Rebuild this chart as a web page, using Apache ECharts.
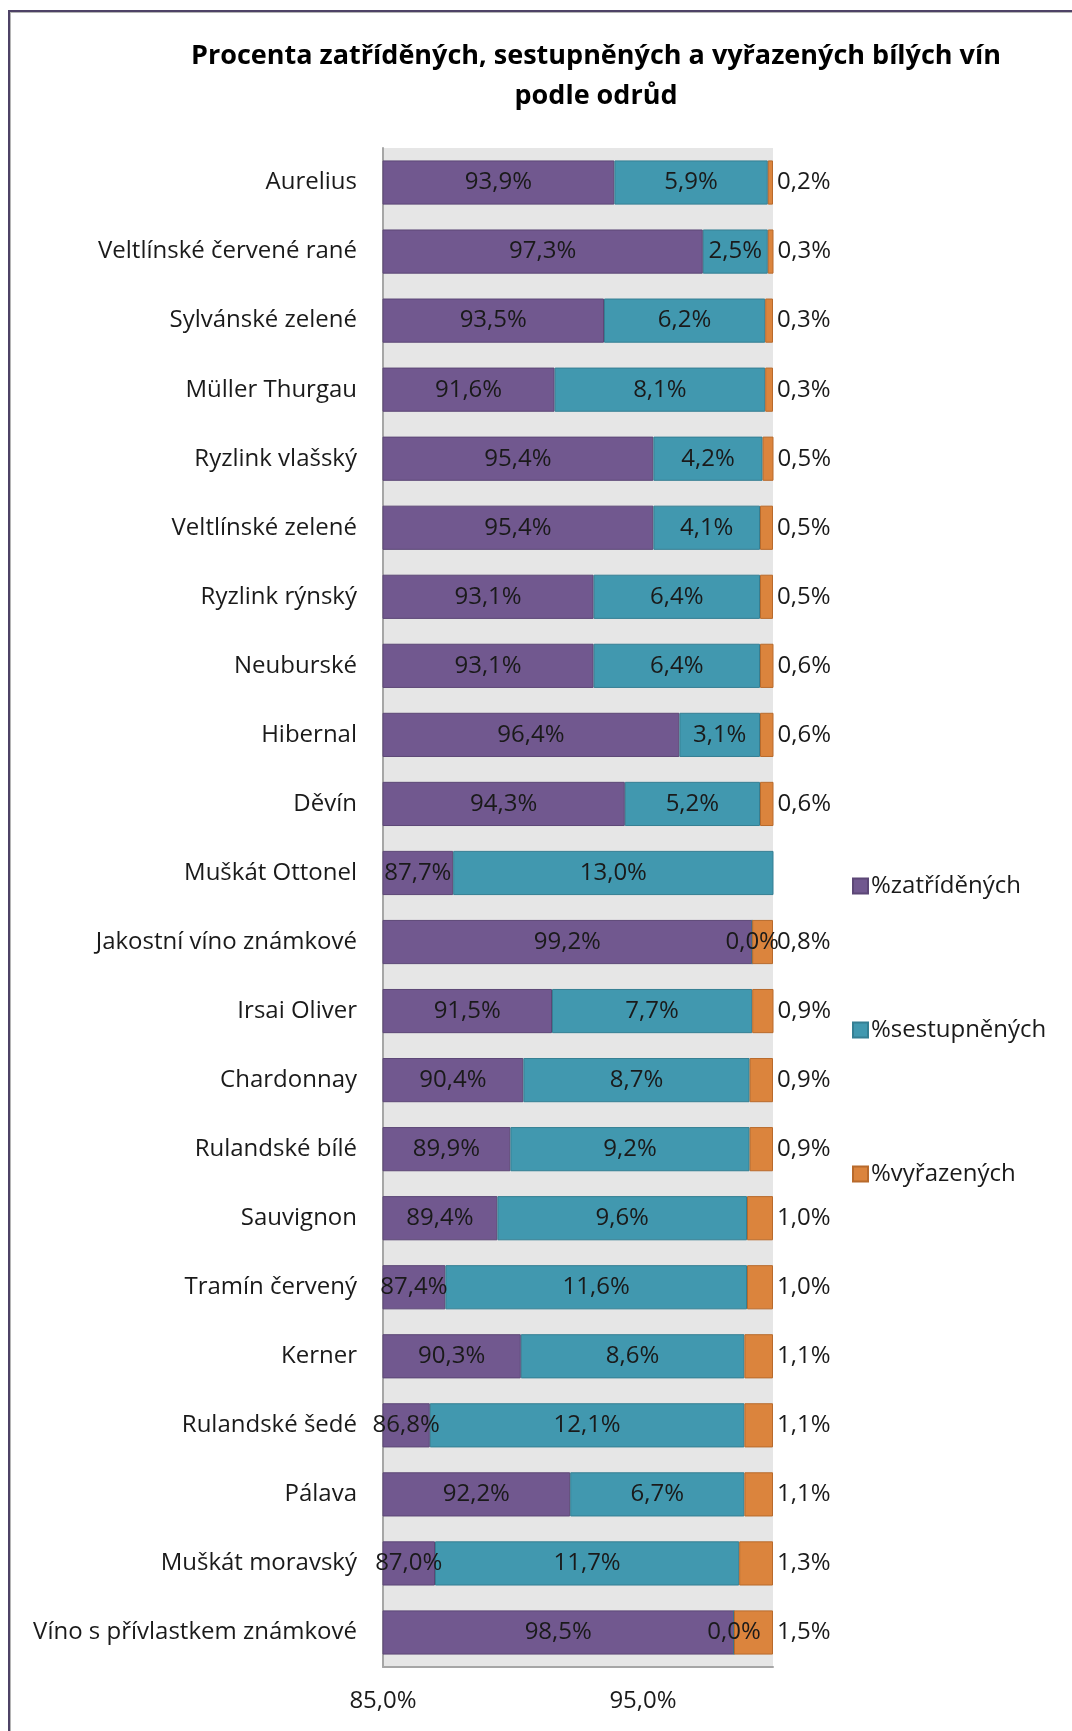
<!DOCTYPE html>
<html>
<head>
<meta charset="utf-8">
<script src="https://cdn.jsdelivr.net/npm/echarts@6/dist/echarts.min.js"></script>
<style>
  html, body { margin: 0; padding: 0; background: #fff; }
  #wrap { position: relative; width: 1072px; height: 1731px; overflow: hidden; }
  #chart { width: 1072px; height: 1731px; }
  #frame {
    position: absolute; left: 8px; top: 10px; width: 1200px; height: 1900px;
    border-top: 2px solid #4e4266; border-left: 2px solid #4e4266;
    box-shadow: inset 1px 1px 0 #b5b5b5; pointer-events: none;
  }
</style>
</head>
<body>
<div id="wrap">
  <div id="chart"></div>
  <div id="frame"></div>
</div>
<script>
const categories = [
  'Aurelius', 'Veltlínské červené rané', 'Sylvánské zelené', 'Müller Thurgau',
  'Ryzlink vlašský', 'Veltlínské zelené', 'Ryzlink rýnský', 'Neuburské',
  'Hibernal', 'Děvín', 'Muškát Ottonel', 'Jakostní víno známkové',
  'Irsai Oliver', 'Chardonnay', 'Rulandské bílé', 'Sauvignon',
  'Tramín červený', 'Kerner', 'Rulandské šedé', 'Pálava',
  'Muškát moravský', 'Víno s přívlastkem známkové'
]
const zatridenych = [93.9, 97.3, 93.5, 91.6, 95.4, 95.4, 93.1, 93.1, 96.4, 94.3, 87.7, 99.2,
  91.5, 90.4, 89.9, 89.4, 87.4, 90.3, 86.8, 92.2, 87.0, 98.5]
const sestupnenych = [5.9, 2.5, 6.2, 8.1, 4.2, 4.1, 6.4, 6.4, 3.1, 5.2, 13.0, 0.0,
  7.7, 8.7, 9.2, 9.6, 11.6, 8.6, 12.1, 6.7, 11.7, 0.0]
const vyrazenych = [0.2, 0.3, 0.3, 0.3, 0.5, 0.5, 0.5, 0.6, 0.6, 0.6, null, 0.8,
  0.9, 0.9, 0.9, 1.0, 1.0, 1.1, 1.1, 1.1, 1.3, 1.5]
const xTickLabels = ['85,0%', '95,0%']

const fontFamily = '"Open Sans", sans-serif'
const fmt = v => v.toFixed(1).replace('.', ',') + '%'

const chart = echarts.init(document.getElementById('chart'))

function labelStyle(pos) {
  return {
    show: true,
    position: pos,
    distance: 4,
    color: '#1a1a1a',
    fontSize: 24,
    fontFamily: fontFamily,
    formatter: p => p.value == null ? '' : fmt(p.value)
  }
}

chart.setOption({
  animation: false,
  title: {
    text: 'Procenta zatříděných, sestupněných a vyřazených bílých vín\npodle odrůd',
    left: 591,
    top: 31,
    textAlign: 'center',
    textStyle: {
      fontFamily: fontFamily,
      fontWeight: 'bold',
      fontSize: 27,
      lineHeight: 40,
      color: '#000'
    }
  },
  legend: {
    orient: 'vertical',
    left: 847,
    top: 869,
    itemWidth: 15,
    itemHeight: 15,
    itemGap: 120,
    icon: 'rect',
    textStyle: { fontFamily: fontFamily, fontSize: 24, color: '#1a1a1a', padding: [0, 0, 0, -2] },
    data: ['%zatříděných', '%sestupněných', '%vyřazených']
  },
  grid: {
    left: 383,
    right: 299,
    top: 148,
    bottom: 64,
    show: true,
    backgroundColor: '#e6e6e6',
    borderWidth: 0
  },
  xAxis: {
    type: 'value',
    min: 85,
    max: 100,
    interval: 5,
    axisLine: { show: true, lineStyle: { color: '#a6a6a6', width: 2 } },
    axisTick: { show: false },
    splitLine: { show: false },
    axisLabel: {
      margin: 22,
      fontFamily: fontFamily,
      fontSize: 24,
      color: '#1a1a1a',
      formatter: v => {
        const t = fmt(v)
        return xTickLabels.indexOf(t) >= 0 ? t : ''
      }
    }
  },
  yAxis: {
    type: 'category',
    inverse: true,
    data: categories,
    axisLine: { show: true, lineStyle: { color: '#a6a6a6', width: 2 } },
    axisTick: { show: false },
    axisLabel: {
      margin: 26,
      fontFamily: fontFamily,
      fontSize: 24,
      color: '#1a1a1a'
    }
  },
  series: [
    {
      name: '%zatříděných',
      type: 'bar',
      stack: 'total',
      barCategoryGap: '36%',
      clip: true,
      itemStyle: { color: '#71588f', borderColor: '#5c4776', borderWidth: 1 },
      label: labelStyle('inside'),
      data: zatridenych
    },
    {
      name: '%sestupněných',
      type: 'bar',
      stack: 'total',
      clip: true,
      itemStyle: { color: '#4198af', borderColor: '#357f93', borderWidth: 1 },
      label: labelStyle('inside'),
      data: sestupnenych
    },
    {
      name: '%vyřazených',
      type: 'bar',
      stack: 'total',
      clip: true,
      itemStyle: { color: '#db843d', borderColor: '#b86a2c', borderWidth: 1 },
      label: labelStyle('right'),
      data: vyrazenych
    }
  ]
})
</script>
</body>
</html>
